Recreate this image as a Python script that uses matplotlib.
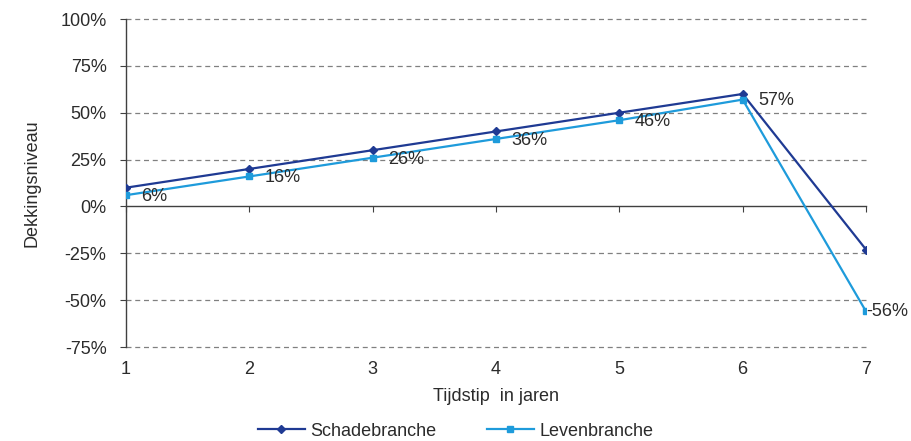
import matplotlib
matplotlib.use("Agg")
import matplotlib.pyplot as plt
from matplotlib.ticker import FuncFormatter

plt.rcParams['font.family'] = ['Liberation Sans', 'DejaVu Sans']

years = [1, 2, 3, 4, 5, 6, 7]
schade = [10, 20, 30, 40, 50, 60, -23]
leven = [6, 16, 26, 36, 46, 57, -56]
leven_labels = ["6%", "16%", "26%", "36%", "46%", "57%", "-56%"]
yticks = [-75, -50, -25, 0, 25, 50, 75, 100]

c_schade = '#1F3A93'
c_leven = '#1E9BDB'
txt = '#2b2b2b'
fs = 13

fig = plt.figure(figsize=(9.11, 4.41), dpi=100)
ax = fig.add_axes([126/911, 1-347/441, (866-126)/911, (347-19)/441])

ax.plot(years, schade, color=c_schade, lw=1.6, marker='D', ms=4, label='Schadebranche', zorder=3)
ax.plot(years, leven, color=c_leven, lw=1.6, marker='s', ms=4.5, label='Levenbranche', zorder=3)

for x, y, lab in zip(years, leven, leven_labels):
    if x == 7:
        ax.annotate(lab, (x, y), xytext=(0, 0), textcoords='offset points',
                    ha='left', va='center', fontsize=fs, color=txt)
    else:
        ax.annotate(lab, (x, y), xytext=(11, -1), textcoords='offset points',
                    ha='left', va='center', fontsize=fs, color=txt)

ax.set_xlim(1, 7)
ax.set_ylim(-75, 100)
ax.set_yticks(yticks)
ax.yaxis.set_major_formatter(FuncFormatter(lambda v, p: f"{int(v)}%"))
for v in yticks:
    if v != 0:
        ax.axhline(v, color='#808080', lw=0.9, ls=(0, (4, 3)), zorder=1, clip_on=False)

ax.spines['top'].set_visible(False)
ax.spines['right'].set_visible(False)
ax.spines['bottom'].set_position(('data', 0))
ax.spines['bottom'].set_color('#404040')
ax.spines['left'].set_color('#404040')
ax.spines['bottom'].set_linewidth(1.0)
ax.spines['left'].set_linewidth(1.0)
ax.set_xticks(years)
ax.tick_params(axis='x', direction='out', length=4, color='#404040', labelbottom=False)
ax.tick_params(axis='y', direction='out', length=4, color='#404040', labelsize=fs, labelcolor=txt, pad=10)

sec = ax.secondary_xaxis('bottom')
sec.set_xticks(years)
sec.tick_params(length=0, labelsize=fs, labelcolor=txt, pad=10)
sec.spines['bottom'].set_visible(False)
sec.set_xlabel('Tijdstip  in jaren', fontsize=fs, color=txt, labelpad=7)

ax.set_ylabel('Dekkingsniveau', fontsize=fs, color=txt, labelpad=14)

fig.legend(loc='center', bbox_to_anchor=(0.5, 1-431/441), ncol=2, frameon=False,
           fontsize=fs, handlelength=2.6, handletextpad=0.3, columnspacing=2.8, labelcolor=txt)

fig.savefig('out.png', dpi=100)
